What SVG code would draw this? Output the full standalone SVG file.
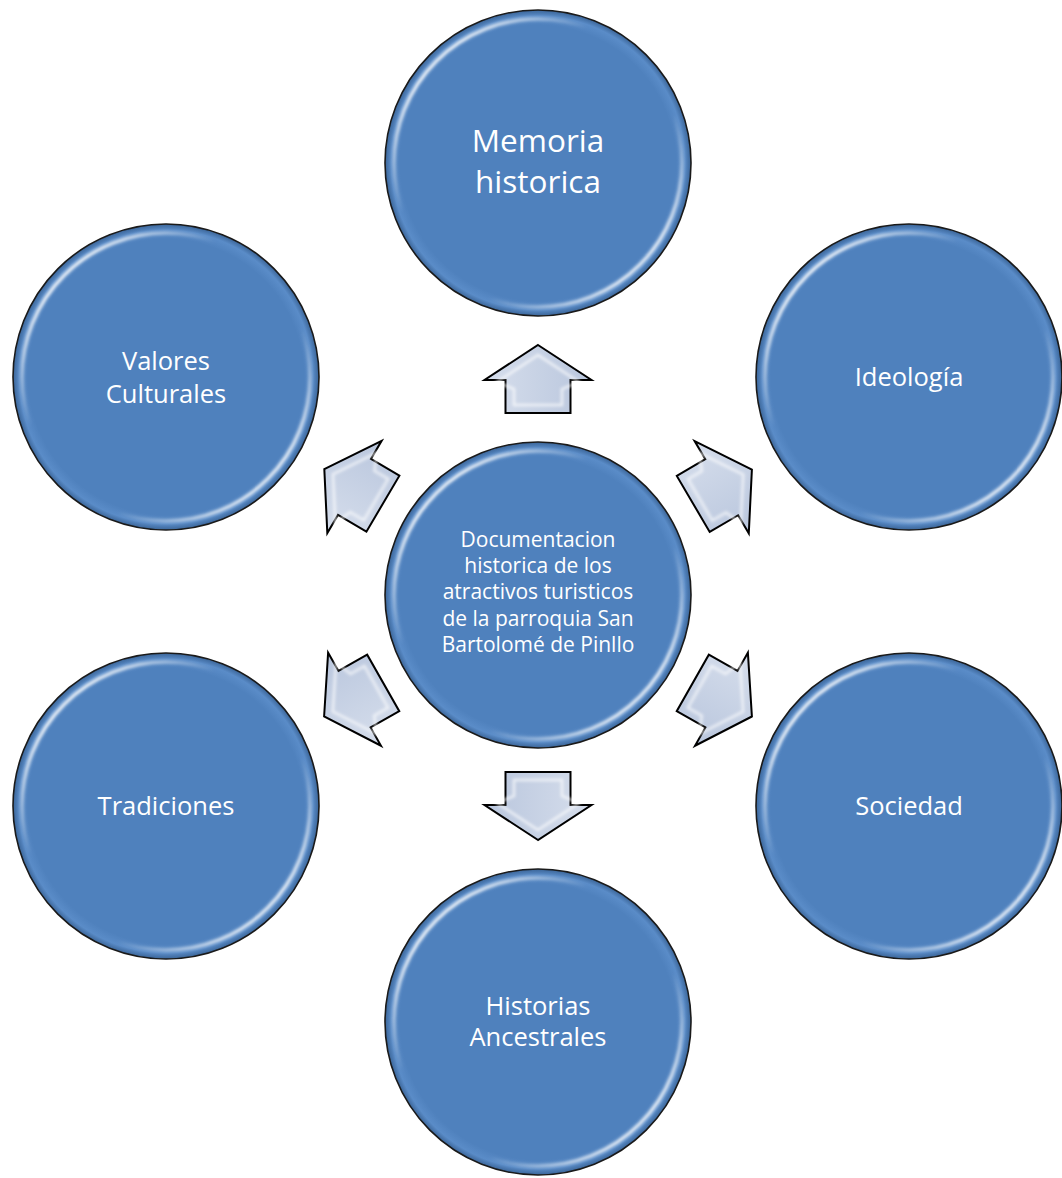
<svg xmlns="http://www.w3.org/2000/svg" width="1062" height="1178" viewBox="0 0 1062 1178">
<defs>
  <linearGradient id="ring" x1="0" y1="0" x2="1" y2="1">
    <stop offset="0" stop-color="#ffffff" stop-opacity="0"/>
    <stop offset="0.15" stop-color="#ffffff" stop-opacity="0.9"/>
    <stop offset="0.35" stop-color="#ffffff" stop-opacity="0"/>
    <stop offset="0.65" stop-color="#ffffff" stop-opacity="0"/>
    <stop offset="0.85" stop-color="#ffffff" stop-opacity="0.85"/>
    <stop offset="1" stop-color="#ffffff" stop-opacity="0"/>
  </linearGradient>
  <radialGradient id="disc" cx="0.5" cy="0.5" r="0.5">
    <stop offset="0" stop-color="#4f81bd"/>
    <stop offset="0.9" stop-color="#4f81bd"/>
    <stop offset="0.96" stop-color="#5a8cc8"/>
    <stop offset="1" stop-color="#3a6497"/>
  </radialGradient>
  <linearGradient id="arrowFill" x1="0" y1="0" x2="0" y2="1">
    <stop offset="0" stop-color="#d6deec"/>
    <stop offset="1" stop-color="#b9c6dd"/>
  </linearGradient>
  <filter id="blur" x="-10%" y="-10%" width="120%" height="120%">
    <feGaussianBlur stdDeviation="1.6"/>
  </filter>
  <g id="node">
    <circle r="153" fill="url(#disc)" stroke="#1a1a1a" stroke-width="1.6"/>
    <circle r="144" fill="none" stroke="url(#ring)" stroke-width="3.5" filter="url(#blur)"/>
  </g>
  <g id="arrow">
    <polygon points="68,0 33,53.5 33,32.5 0,32.5 0,-32.5 33,-32.5 33,-53.5" fill="url(#arrowFill)" stroke="#000" stroke-width="2" stroke-linejoin="miter"/>
    <polygon points="58,0 31,41 24,24 8,24 8,-24 24,-24 31,-41" fill="none" stroke="#ffffff" stroke-opacity="0.7" stroke-width="2.5" filter="url(#blur)"/>
  </g>
</defs>
<style>
  .lbl { font-family: "Open Sans", "Noto Sans", sans-serif; fill: #ffffff; text-anchor: middle; }
  .big { font-size: 31.5px; }
  .mid { font-size: 25.5px; }
  .sm { font-size: 21px; }
</style>
<rect width="1062" height="1178" fill="#ffffff"/>

<g id="connectors">
  <use href="#arrow" transform="translate(538,595) rotate(-90) translate(182,0)"/>
  <use href="#arrow" transform="translate(538,595) rotate(90) translate(177,0)"/>
  <use href="#arrow" transform="translate(538,595) rotate(-149.5) translate(180,0)"/>
  <use href="#arrow" transform="translate(538,595) rotate(-30.4) translate(180,0)"/>
  <use href="#arrow" transform="translate(538,595) rotate(150.4) translate(178,0)"/>
  <use href="#arrow" transform="translate(538,595) rotate(29.6) translate(178,0)"/>
</g>

<g id="node-center">
  <use href="#node" transform="translate(538,595)"/>
  <text class="lbl sm" x="538" y="547">Documentacion</text>
  <text class="lbl sm" x="538" y="573">historica de los</text>
  <text class="lbl sm" x="538" y="599">atractivos turisticos</text>
  <text class="lbl sm" x="538" y="626">de la parroquia San</text>
  <text class="lbl sm" x="538" y="652">Bartolomé de Pinllo</text>
</g>
<g id="node-memoria">
  <use href="#node" transform="translate(538,163)"/>
  <text class="lbl big" x="538" y="152">Memoria</text>
  <text class="lbl big" x="538" y="193">historica</text>
</g>
<g id="node-valores">
  <use href="#node" transform="translate(166,377)"/>
  <text class="lbl mid" x="166" y="370">Valores</text>
  <text class="lbl mid" x="166" y="403">Culturales</text>
</g>
<g id="node-ideologia">
  <use href="#node" transform="translate(909,377)"/>
  <text class="lbl mid" x="909" y="386">Ideología</text>
</g>
<g id="node-tradiciones">
  <use href="#node" transform="translate(166,806)"/>
  <text class="lbl mid" x="166" y="815">Tradiciones</text>
</g>
<g id="node-sociedad">
  <use href="#node" transform="translate(909,806)"/>
  <text class="lbl mid" x="909" y="815">Sociedad</text>
</g>
<g id="node-historias">
  <use href="#node" transform="translate(538,1022)"/>
  <text class="lbl mid" x="538" y="1015">Historias</text>
  <text class="lbl mid" x="538" y="1046">Ancestrales</text>
</g>
</svg>
